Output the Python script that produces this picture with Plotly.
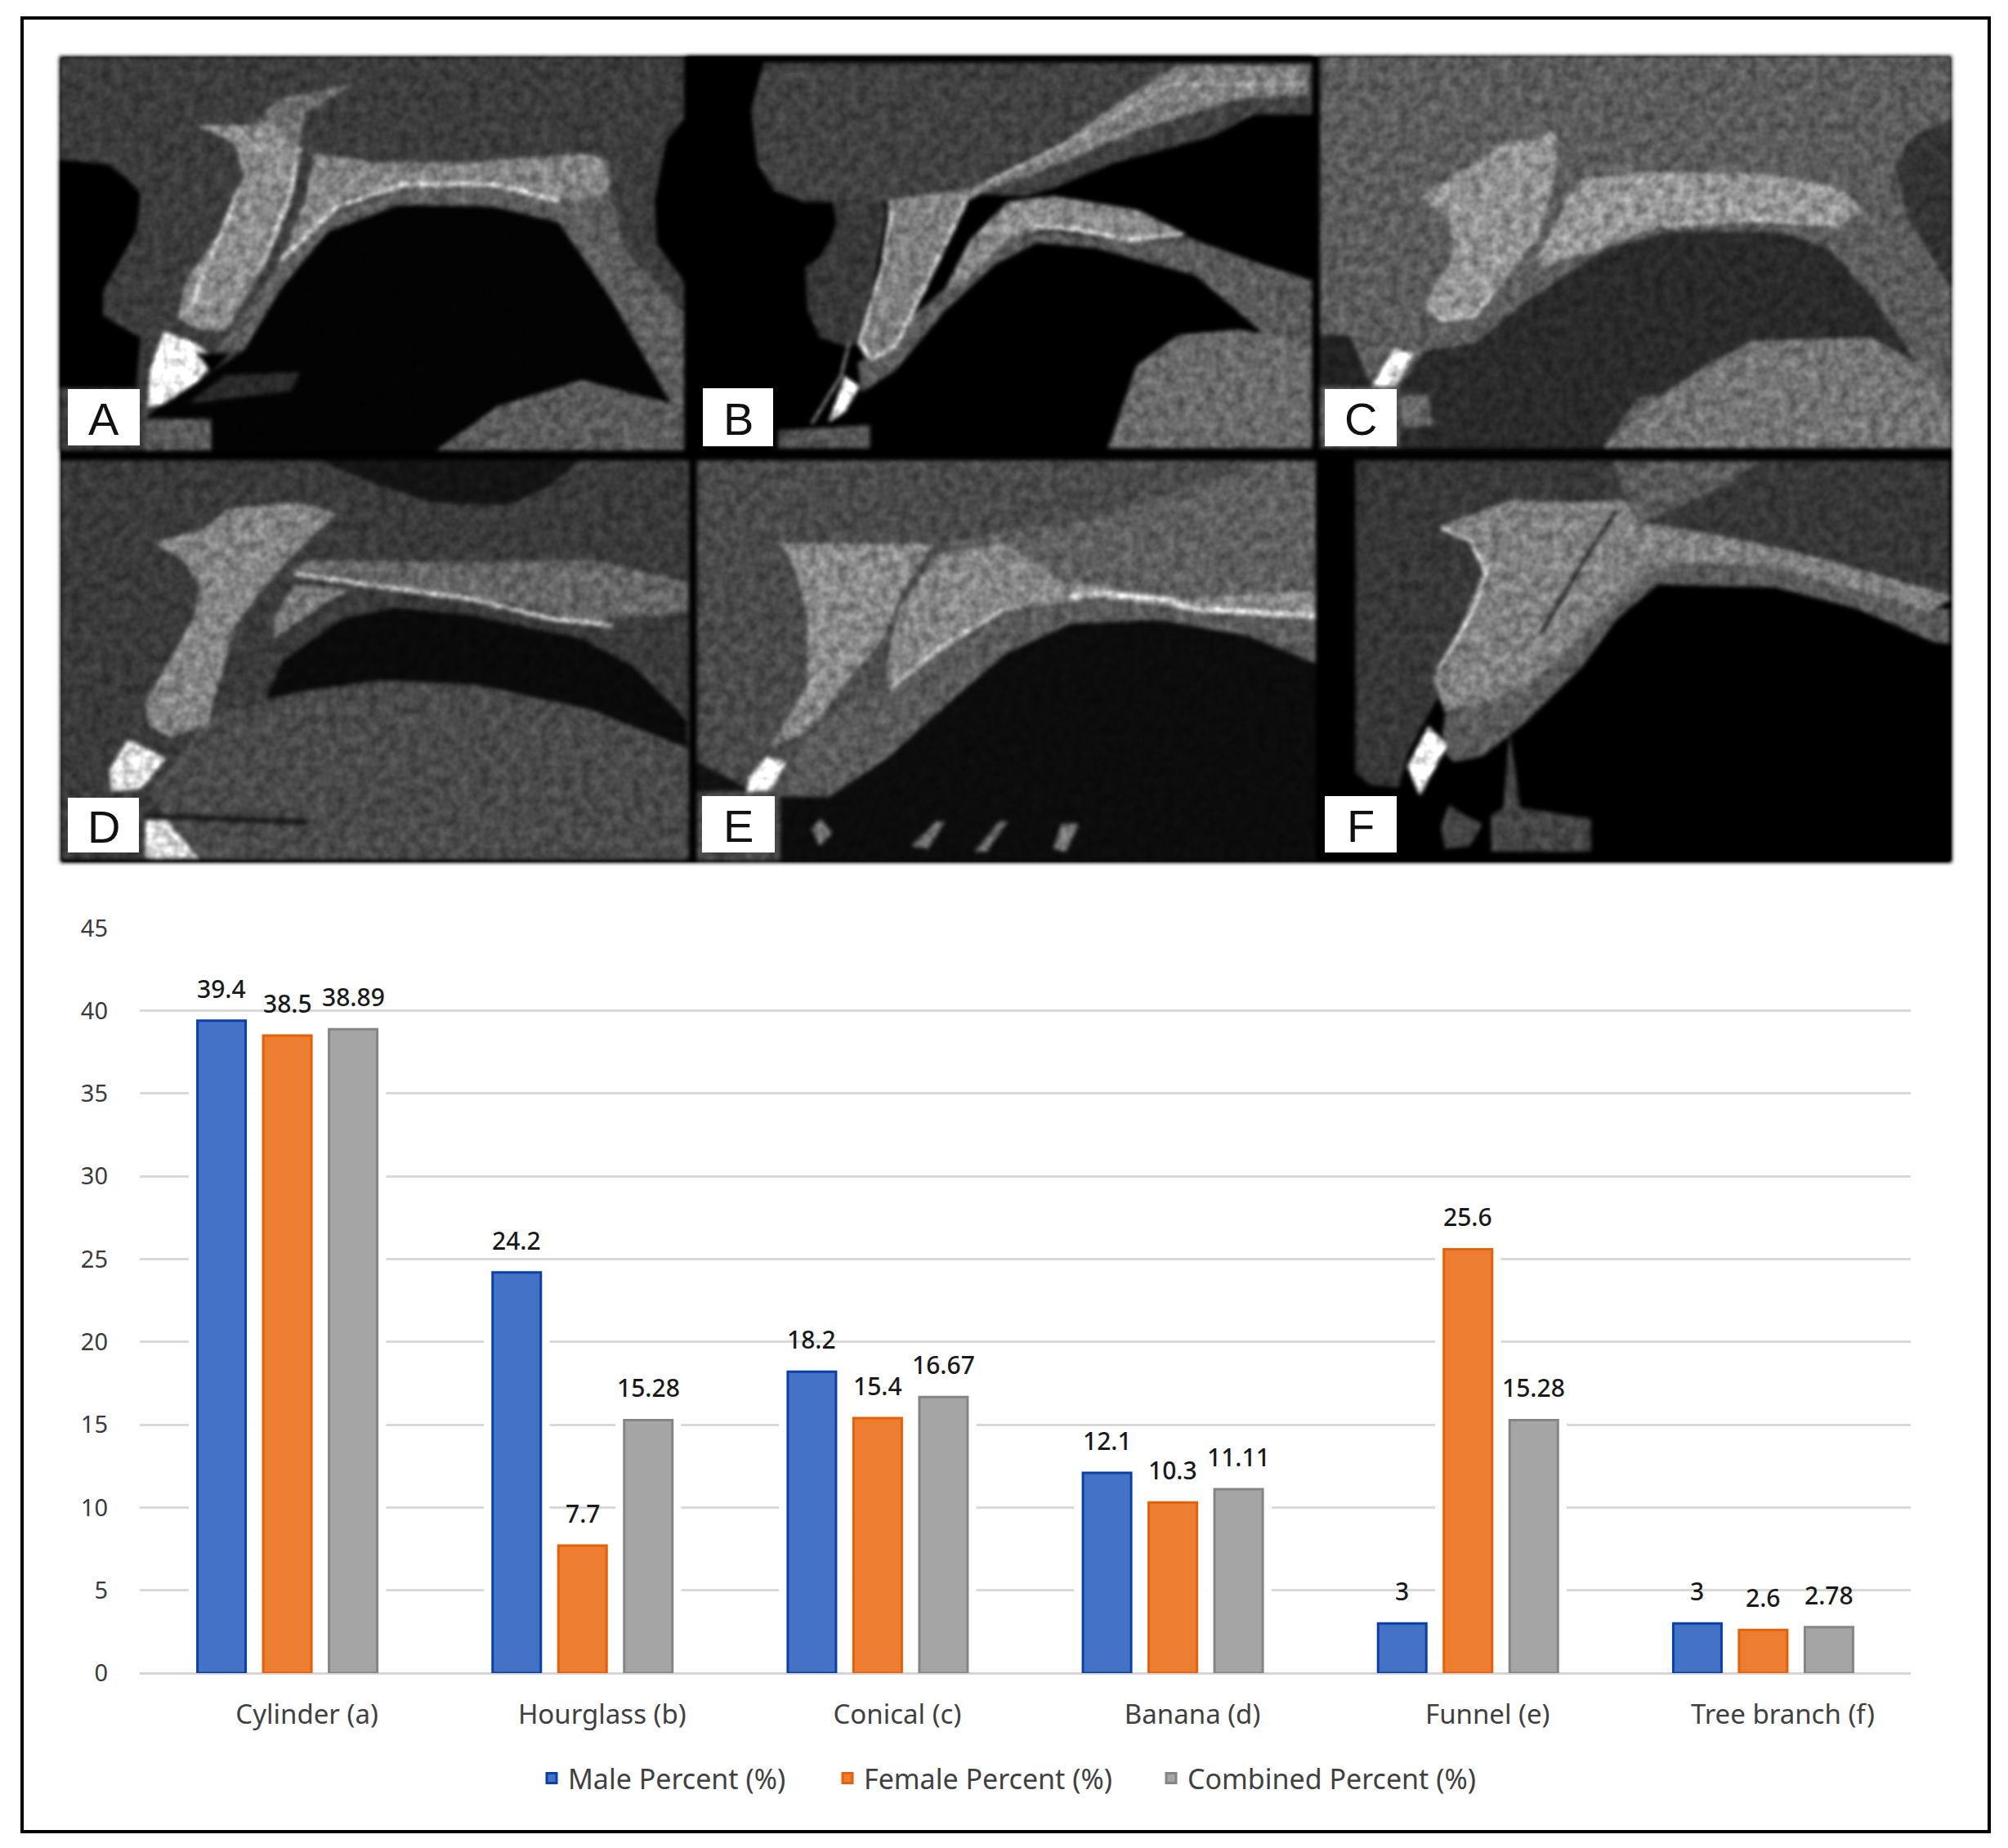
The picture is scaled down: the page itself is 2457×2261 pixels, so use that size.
import plotly.graph_objects as go

WIDTH = 2457
HEIGHT = 2261

categories = ["Cylinder (a)", "Hourglass (b)", "Conical (c)", "Banana (d)", "Funnel (e)", "Tree branch (f)"]
male = [39.4, 24.2, 18.2, 12.1, 3, 3]
female = [38.5, 7.7, 15.4, 10.3, 25.6, 2.6]
combined = [38.89, 15.28, 16.67, 11.11, 15.28, 2.78]
y_ticks = [0, 5, 10, 15, 20, 25, 30, 35, 40, 45]

series_names = ["Male Percent (%)", "Female Percent (%)", "Combined Percent (%)"]
series_colors = ["#4472c4", "#ed7d31", "#a5a5a5"]
edge_colors = ["#0a3fae", "#e85f06", "#858585"]
legend_left_px = [655, 1017, 1413]

# plot area in page pixels
PLOT_LEFT, PLOT_RIGHT = 171, 2338
PLOT_TOP, PLOT_BOTTOM = 1135, 2047
SLOT_PX = 80.5
BAR_PX = 59


def px(x, y):
    return x / WIDTH, 1 - y / HEIGHT


def poly_shape(points, fill, layer="below"):
    parts = []
    for x, y in points:
        xp, yp = px(x, y)
        parts.append(f"{xp:.5f},{yp:.5f}")
    return dict(type="path", xref="paper", yref="paper", layer=layer, path="M" + " L".join(parts) + " Z",
                fillcolor=fill, line=dict(width=0))


def stroke_shape(points, color, width):
    parts = []
    for x, y in points:
        xp, yp = px(x, y)
        parts.append(f"{xp:.5f},{yp:.5f}")
    return dict(type="path", xref="paper", yref="paper", layer="below", path="M" + " L".join(parts),
                line=dict(color=color, width=width))


def rect_shape(x0, y0, x1, y1, fill, layer="below"):
    return poly_shape([(x0, y0), (x1, y0), (x1, y1), (x0, y1)], fill, layer)


# CT pictures, traced by eye. (x, y) are crop coordinates, converted by each panel's origin and scale
# each entry: fill colour, outline
panel_a = [
    ("#3c3c3c", [(127, 180), (1458, 180), (1458, 1440), (127, 1440)]),
    ("#000000", [(127, 510), (230, 525), (270, 570), (300, 620), (290, 740), (220, 930), (220, 1010), (300, 1080), (290, 1240), (127, 1240)]),
    ("#000000", [(1458, 380), (1420, 450), (1395, 640), (1400, 780), (1458, 900)]),
    ("#5e5e5e", [(600, 830), (720, 680), (860, 600), (1050, 600), (1200, 640), (1300, 620), (1330, 800), (1458, 1000), (1458, 1300), (1430, 1290), (1300, 950), (1190, 710), (1050, 660), (850, 655), (700, 740), (600, 920), (520, 1120), (460, 1130)]),
    ("#030303", [(310, 1340), (450, 1340), (450, 1440), (930, 1440), (1060, 1300), (1240, 1215), (1430, 1290), (1300, 950), (1190, 710), (1050, 660), (850, 655), (700, 740), (600, 920), (520, 1120), (330, 1310)]),
    ("#5a5a5a", [(930, 1440), (1060, 1300), (1240, 1215), (1430, 1290), (1458, 1300), (1458, 1440)]),
    ("#5a5a5a", [(310, 1340), (450, 1340), (450, 1440), (310, 1440)]),
    ("#2a2a2a", [(480, 1200), (640, 1190), (620, 1250), (400, 1290)]),
    ("#6e6e6e", [(590, 320), (760, 265), (650, 360), (640, 460), (540, 400)]),
    ("#8c8c8c", [(420, 400), (590, 400), (640, 470), (620, 650), (560, 860), (480, 1060), (420, 1050), (380, 1020), (395, 900), (480, 720), (520, 560), (500, 460)]),
    ("#858585", [(670, 490), (800, 520), (1000, 520), (1250, 490), (1300, 520), (1300, 620), (1190, 640), (1050, 590), (860, 585), (730, 640), (600, 830), (650, 640)]),
    ("#ffffff", [(350, 1060), (420, 1100), (460, 1150), (420, 1220), (350, 1290), (315, 1300), (320, 1180)]),
    ("#000000", [(420, 1130), (490, 1130), (450, 1190)]),
]
lines_a = [
    ("#d2d2d2", 4, [(510, 600), (470, 750), (400, 1000)]),
    ("#d2d2d2", 4, [(640, 470), (620, 620), (560, 850)]),
    ("#dadada", 5, [(600, 830), (720, 660), (860, 590), (1050, 590), (1190, 640)]),
]

panel_b = [
    ("#000000", [(20, 25), (1520, 25), (1520, 1465), (20, 1465)]),
    ("#414141", [(205, 50), (1520, 50), (1520, 240), (1380, 240), (1280, 320), (1040, 420), (900, 510), (830, 540), (700, 530), (490, 560), (370, 560), (300, 560), (230, 520), (190, 420), (175, 220)]),
    ("#383838", [(370, 560), (490, 560), (500, 600), (440, 1080), (400, 1090), (340, 1060), (310, 960), (305, 800), (340, 765), (365, 700), (380, 640)]),
    ("#5a5a5a", [(640, 880), (800, 690), (900, 670), (1080, 710), (1220, 690), (1380, 780), (1520, 850), (1520, 1465), (1030, 1465), (1100, 1160), (1200, 1050), (1400, 1040), (1240, 830), (1000, 730), (860, 710), (760, 790), (640, 960), (520, 1180), (440, 1260), (430, 1150), (500, 1120), (560, 980)]),
    ("#6a6a6a", [(1030, 1465), (1100, 1160), (1200, 1050), (1340, 1030), (1400, 1045), (1520, 1100), (1520, 1465)]),
    ("#7f7f7f", [(500, 555), (700, 510), (900, 370), (1050, 200), (1200, 60), (1510, 60), (1510, 170), (1350, 180), (1100, 300), (900, 430), (740, 520), (690, 560), (640, 720), (560, 980), (500, 1120), (450, 1140), (430, 1080), (470, 880), (510, 700)]),
    ("#8a8a8a", [(700, 700), (790, 560), (900, 540), (1100, 590), (1220, 680), (1080, 710), (900, 660), (800, 690), (680, 860), (640, 880)]),
    ("#555555", [(240, 1400), (460, 1380), (460, 1465), (240, 1465)]),
    ("#ffffff", [(400, 1200), (435, 1240), (400, 1330), (360, 1370)]),
]
lines_b = [
    ("#e4e4e4", 4, [(510, 600), (490, 800), (435, 1080), (465, 1140), (520, 1090), (590, 880), (690, 560)]),
    ("#dddddd", 4, [(830, 650), (950, 660), (1080, 700), (1210, 680)]),
    ("#b0b0b0", 3, [(740, 490), (950, 330), (1180, 130), (1500, 130)]),
    ("#9a9a9a", 3, [(410, 1080), (390, 1200), (320, 1375)]),
]

panel_c = [
    ("#5c5c5c", [(10, 25), (1525, 25), (1525, 1465), (10, 1465)]),
    ("#2a2a2a", [(200, 1240), (260, 1110), (380, 1080), (500, 930), (700, 730), (850, 670), (1100, 670), (1230, 730), (1340, 920), (1440, 1150), (1330, 1060), (1080, 1070), (950, 1150), (880, 1250), (770, 1280), (690, 1465), (200, 1465)]),
    ("#747474", [(690, 1465), (830, 1270), (950, 1150), (1050, 1070), (1330, 1060), (1440, 1150), (1525, 1300), (1525, 1465)]),
    ("#333333", [(1525, 255), (1430, 320), (1390, 430), (1420, 620), (1525, 880)]),
    ("#222222", [(10, 1050), (80, 1050), (135, 1240), (10, 1240)]),
    ("#6a6a6a", [(205, 1270), (270, 1270), (280, 1380), (205, 1390)]),
    ("#929292", [(250, 545), (450, 350), (580, 300), (570, 500), (530, 700), (440, 880), (380, 990), (300, 1000), (265, 930), (330, 750), (320, 620)]),
    ("#969696", [(630, 480), (800, 450), (1100, 460), (1260, 510), (1310, 600), (1250, 650), (1000, 630), (820, 650), (650, 750), (540, 800), (530, 760), (580, 620)]),
    ("#ffffff", [(190, 1100), (235, 1120), (190, 1235), (135, 1235)]),
]
lines_c = [
    ("#d0d0d0", 4, [(270, 940), (300, 995), (380, 975), (430, 890)]),
    ("#c4c4c4", 3, [(830, 650), (1050, 625), (1250, 645)]),
]

panel_d = [
    ("#3a3a3a", [(28, 25), (1535, 25), (1535, 1490), (28, 1490)]),
    ("#4a4a4a", [(520, 920), (620, 870), (800, 840), (1030, 850), (1300, 940), (1530, 1080), (1530, 1490), (360, 1490), (240, 1250), (340, 1050), (410, 950)]),
    ("#0a0a0a", [(520, 900), (560, 760), (700, 610), (830, 565), (1000, 590), (1280, 680), (1400, 780), (1530, 980), (1530, 1080), (1300, 940), (1030, 850), (800, 830), (620, 870)]),
    ("#141414", [(650, 25), (1270, 25), (1200, 120), (1100, 190), (920, 180), (780, 110)]),
    ("#1a1a1a", [(230, 1320), (620, 1340), (620, 1365), (230, 1340)]),
    ("#848484", [(250, 325), (370, 280), (430, 200), (600, 180), (690, 220), (620, 320), (550, 430), (450, 620), (400, 880), (380, 1000), (290, 1040), (240, 1000), (230, 920), (280, 780), (350, 590), (360, 480), (320, 390)]),
    ("#666666", [(580, 430), (800, 480), (1100, 550), (1300, 620), (1530, 580), (1530, 470), (1300, 390), (1000, 400), (620, 390)]),
    ("#7a7a7a", [(590, 480), (720, 500), (650, 560), (540, 680), (540, 600)]),
    ("#e8e8e8", [(190, 1050), (280, 1120), (220, 1230), (150, 1240), (145, 1160)]),
    ("#e0e0e0", [(232, 1345), (280, 1345), (360, 1485), (232, 1485)]),
]
lines_d = [
    ("#cccccc", 5, [(590, 440), (780, 485), (1000, 530), (1220, 610), (1350, 630)]),
]

panel_e = [
    ("#4a4a4a", [(25, 25), (1510, 25), (1510, 1495), (25, 1495)]),
    ("#111111", [(25, 1130), (160, 1240), (25, 1240)]),
    ("#0c0c0c", [(340, 1260), (480, 1120), (640, 900), (770, 730), (920, 625), (1130, 610), (1350, 670), (1510, 770), (1510, 1495), (225, 1495), (225, 1260)]),
    ("#5a5a5a", [(240, 1240), (280, 1060), (400, 890), (480, 870), (760, 590), (990, 535), (1180, 580), (1510, 600), (1510, 770), (1350, 670), (1130, 610), (920, 625), (770, 730), (640, 900), (480, 1120), (340, 1260)]),
    ("#5f5f5f", [(600, 330), (750, 290), (980, 240), (1100, 180), (1400, 30), (1510, 30), (1510, 520), (1180, 530), (900, 480), (760, 340)]),
    ("#8a8a8a", [(225, 330), (590, 330), (520, 500), (470, 680), (380, 850), (290, 1020), (200, 1080), (290, 850), (290, 600), (260, 420)]),
    ("#868686", [(600, 370), (760, 330), (900, 470), (1180, 530), (1510, 500), (1510, 600), (1180, 570), (990, 530), (760, 580), (600, 740), (490, 870), (480, 790), (510, 570)]),
    ("#ffffff", [(190, 1115), (240, 1130), (200, 1240), (145, 1240), (150, 1190)]),
    ("#777777", [(320, 1340), (350, 1390), (320, 1440), (300, 1380)]),
    ("#707070", [(600, 1350), (620, 1350), (580, 1450), (540, 1440)]),
    ("#707070", [(750, 1350), (770, 1350), (720, 1460), (690, 1460)]),
    ("#808080", [(900, 1360), (940, 1360), (910, 1460), (880, 1450)]),
]
lines_e = [
    ("#e8e8e8", 6, [(920, 525), (1000, 515), (1150, 535), (1210, 570), (1510, 597)]),
    ("#bdbdbd", 5, [(490, 860), (620, 700), (760, 575)]),
]

panel_f = [
    ("#000000", [(0, 25), (1522, 25), (1522, 1495), (0, 1495)]),
    ("#373737", [(95, 25), (1520, 25), (1520, 540), (1470, 580), (1300, 500), (1080, 410), (850, 400), (780, 460), (560, 770), (510, 800), (290, 900), (220, 1100), (200, 1225), (130, 1215), (95, 1170)]),
    ("#5a5a5a", [(820, 480), (1100, 490), (1300, 570), (1480, 690), (1520, 700), (1520, 570), (1450, 570), (1300, 500), (1080, 410), (850, 400), (780, 450), (560, 760), (510, 800), (310, 960), (300, 1080), (330, 1130), (400, 1110), (500, 990), (640, 780), (720, 610)]),
    ("#808080", [(290, 270), (470, 170), (620, 180), (740, 170), (780, 250), (1000, 310), (1200, 380), (1520, 520), (1520, 540), (1470, 580), (1300, 500), (1080, 410), (850, 400), (780, 450), (570, 770), (500, 850), (430, 900), (310, 950), (280, 830), (340, 660), (400, 440), (370, 320)]),
    ("#5a5a5a", [(710, 30), (1060, 30), (1000, 100), (880, 190), (780, 250), (740, 150)]),
    ("#ffffff", [(270, 1000), (315, 1070), (250, 1255), (220, 1150)]),
    ("#444444", [(465, 1020), (490, 1300), (660, 1340), (660, 1460), (420, 1460), (420, 1330), (450, 1300)]),
    ("#444444", [(320, 1290), (360, 1330), (400, 1360), (370, 1440), (310, 1450), (300, 1370)]),
]
lines_f = [
    ("#d8d8d8", 4, [(300, 270), (370, 320), (410, 440), (370, 600), (290, 800)]),
    ("#1c1c1c", 4, [(720, 210), (640, 400), (540, 660)]),
]

# origin of the crop and its scale in crop units per page pixel
panels = [
    (panel_a, lines_a, 0, 0, 1.742, 2.613),
    (panel_b, lines_b, 830, 60, 1.96, 3),
    (panel_c, lines_c, 1610, 60, 1.96, 3),
    (panel_d, lines_d, 60, 555, 1.96, 3),
    (panel_e, lines_e, 840, 555, 1.96, 3),
    (panel_f, lines_f, 1610, 555, 1.96, 3),
]

# label boxes in page pixels: letter, x0, y0, x1, y1
panel_labels = [
    ("A", 83, 476, 171, 545),
    ("B", 860, 475, 946, 546),
    ("C", 1621, 476, 1709, 546),
    ("D", 83, 976, 170, 1043),
    ("E", 859, 974, 948, 1043),
    ("F", 1621, 974, 1709, 1043),
]

shapes = [rect_shape(74, 69, 2388, 1055, "#000000")]
for outlines, strokes, ox, oy, sx, sy in panels:
    for fill, pts in outlines:
        shapes.append(poly_shape([(ox + x / sx, oy + y / sy) for x, y in pts], fill))
    for color, width, pts in strokes:
        shapes.append(stroke_shape([(ox + x / sx, oy + y / sy) for x, y in pts], color, width))

# white gap round each bar, the gridlines stop there
slot = SLOT_PX / ((PLOT_RIGHT - PLOT_LEFT) / len(categories))
for j, values in enumerate([male, female, combined]):
    for i, v in enumerate(values):
        center = i + (j - 1) * slot
        shapes.append(dict(type="rect", xref="x", yref="y", layer="between", x0=center - slot / 2, x1=center + slot / 2,
                           y0=0.15, y1=v, fillcolor="white", line=dict(width=0)))

annotations = []
for letter, x0, y0, x1, y1 in panel_labels:
    shapes.append(rect_shape(x0, y0, x1, y1, "#ffffff", layer="above"))
    xp, yp = px((x0 + x1) / 2, (y0 + y1) / 2 + 2)
    annotations.append(dict(text=letter, xref="paper", yref="paper", x=xp, y=yp, xanchor="center", yanchor="middle",
                            showarrow=False, font=dict(family="Liberation Sans", size=56, color="#111111")))

shapes.append(dict(type="rect", xref="paper", yref="paper", layer="above", x0=27 / WIDTH, x1=2434 / WIDTH,
                   y0=1 - 2241 / HEIGHT, y1=1 - 22 / HEIGHT, line=dict(color="black", width=4)))

fig = go.Figure()
legend_ids = ["legend", "legend2", "legend3"]
for j, (name, values) in enumerate(zip(series_names, [male, female, combined])):
    fig.add_trace(go.Bar(
        x=categories,
        y=values,
        name=name,
        legend=legend_ids[j],
        showlegend=True,
        marker=dict(color=series_colors[j], line=dict(color=edge_colors[j], width=3)),
    ))
    for cat, v in zip(categories, values):
        annotations.append(dict(text=str(v), x=cat, y=v, xref="x", yref="y", xshift=(j - 1) * SLOT_PX, yshift=17,
                                yanchor="bottom", showarrow=False,
                                font=dict(family="Noto Sans", size=30, weight=500, color="#1a1a1a")))

# one legend per series, so each entry sits where it does in the original
legends = {}
for legend_id, left in zip(legend_ids, legend_left_px):
    legends[legend_id] = dict(orientation="h", x=left / WIDTH, y=1 - 2147 / HEIGHT, xanchor="left", yanchor="top",
                              font=dict(family="Noto Sans", size=34, color="#404040"))

fig.update_layout(
    width=WIDTH,
    height=HEIGHT,
    margin=dict(l=0, r=0, t=0, b=0, autoexpand=False),
    paper_bgcolor="white",
    plot_bgcolor="white",
    barmode="group",
    bargap=1 - 3 * SLOT_PX / ((PLOT_RIGHT - PLOT_LEFT) / len(categories)),
    bargroupgap=1 - BAR_PX / SLOT_PX,
    font=dict(family="Noto Sans", color="#404040"),
    shapes=shapes,
    annotations=annotations,
    **legends,
)

fig.update_xaxes(
    domain=[PLOT_LEFT / WIDTH, PLOT_RIGHT / WIDTH],
    automargin=False,
    showgrid=False,
    zeroline=False,
    showline=False,
    ticks="",
    ticklabelshift=24,
    ticklabelstandoff=28,
    tickfont=dict(family="Noto Sans", size=33, color="#404040"),
)

fig.update_yaxes(
    domain=[1 - PLOT_BOTTOM / HEIGHT, 1 - PLOT_TOP / HEIGHT],
    automargin=False,
    range=[0, 45.02],
    tickvals=y_ticks,
    showgrid=True,
    gridcolor="#d9d9d9",
    gridwidth=3,
    zeroline=True,
    zerolinecolor="#d4d4d4",
    zerolinewidth=3,
    ticks="",
    ticklabelstandoff=38,
    tickfont=dict(family="Noto Sans", size=29, color="#3a3a3a"),
)

# no page margin, soften the traced pictures and give them some scan grain
post_js = """
document.body.style.margin = '0';
var svg = document.querySelector('.main-svg');
var ns = 'http://www.w3.org/2000/svg';
var f = document.createElementNS(ns, 'filter');
f.setAttribute('id', 'ct-soft');
f.setAttribute('filterUnits', 'userSpaceOnUse');
f.setAttribute('x', '0'); f.setAttribute('y', '0');
f.setAttribute('width', '2457'); f.setAttribute('height', '1100');
f.setAttribute('color-interpolation-filters', 'sRGB');
f.innerHTML = '<feGaussianBlur in="SourceGraphic" stdDeviation="2.5" result="b"/>'
  + '<feTurbulence type="fractalNoise" baseFrequency="0.08" numOctaves="2" seed="4" result="n"/>'
  + '<feColorMatrix in="n" type="matrix" values="1 0 0 0 0 1 0 0 0 0 1 0 0 0 0 0 0 0 0 1" result="g"/>'
  + '<feComposite in="b" in2="g" operator="arithmetic" k1="0.8" k2="0.6" k3="0" k4="0"/>';
svg.appendChild(f);
var layer = document.querySelector('.layer-below .shapelayer');
if (layer) { layer.setAttribute('filter', 'url(#ct-soft)'); }
"""

fig.write_html("out.html", post_script=post_js, config={"displayModeBar": False})
